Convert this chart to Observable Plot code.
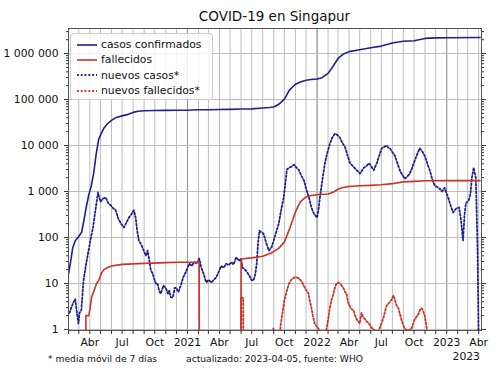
<!DOCTYPE html>
<html>
<head>
<meta charset="utf-8">
<script src="https://cdn.jsdelivr.net/npm/d3@7"></script>
<script src="https://cdn.jsdelivr.net/npm/@observablehq/plot@0.6"></script>
<style>
  html, body { margin: 0; padding: 0; background: #fff; }
  #wrap { position: relative; width: 500px; height: 375px; font-family: "DejaVu Sans", sans-serif; color: #111; }
  .abs { position: absolute; white-space: nowrap; }
  #title { top: 7px; left: 68px; width: 413px; text-align: center; font-size: 13.5px; line-height: 18px; }
  .foot { font-size: 9.2px; line-height: 14px; top: 352px; }
  #offset { right: 20px; top: 350px; font-size: 10.8px; line-height: 14px; }
  #legend { left: 70px; top: 33px; width: 141px; background: rgba(255,255,255,0.85);
            border: 1px solid #cccccc; border-radius: 3px; padding-top: 3px; box-sizing: content-box; height: 62px; }
  .row { display: flex; align-items: center; height: 15.3px; font-size: 10.8px; padding-left: 6px; }
  .row svg { width: 20px; height: 8px; margin-right: 4px; }
</style>
</head>
<body>
<div id="wrap"></div>
<script>
// ---------- data ----------
const confirmados = [
  ["2020-02-01",16],["2020-02-07",30],["2020-02-13",60],["2020-02-20",85],["2020-03-01",105],["2020-03-09",130],
  ["2020-03-15",226],["2020-03-22",455],["2020-03-29",844],["2020-04-05",1309],["2020-04-12",2532],["2020-04-19",6588],
  ["2020-04-26",13624],["2020-05-03",18205],["2020-05-10",23336],["2020-05-20",29364],["2020-06-01",35292],
  ["2020-06-15",40818],["2020-07-01",44122],["2020-07-15",46878],["2020-08-01",52512],["2020-08-15",55497],
  ["2020-09-01",56812],["2020-10-01",57765],["2020-11-01",58019],["2020-12-01",58218],["2021-01-01",58629],
  ["2021-02-01",59699],["2021-03-01",60088],["2021-04-01",60478],["2021-05-01",61121],["2021-06-01",62069],
  ["2021-07-01",62630],["2021-08-01",65315],["2021-08-20",66900],["2021-09-01",68901],["2021-09-15",78721],
  ["2021-10-01",101786],["2021-10-15",160000],["2021-11-01",215000],["2021-11-15",240000],["2021-12-01",262000],
  ["2021-12-15",272000],["2022-01-01",280000],["2022-01-15",298000],["2022-02-01",370000],["2022-02-15",530000],
  ["2022-03-01",780000],["2022-03-15",960000],["2022-04-01",1100000],["2022-05-01",1210000],["2022-06-01",1330000],
  ["2022-07-01",1450000],["2022-08-01",1700000],["2022-09-01",1850000],["2022-10-01",1900000],["2022-10-15",2000000],
  ["2022-11-01",2130000],["2022-12-01",2190000],["2023-01-01",2210000],["2023-04-05",2230000]
];
const fallecidos = [
  ["2020-02-01",0],["2020-03-20",0],["2020-03-21",2],["2020-03-29",2],["2020-04-02",3],["2020-04-06",5],
  ["2020-04-13",7],["2020-04-20",10],["2020-04-27",12],["2020-05-04",17],["2020-05-11",20],["2020-05-20",22],
  ["2020-06-01",24],["2020-07-01",26],["2020-08-15",27],["2020-10-15",28],["2020-12-01",29],["2021-02-03",29],
  ["2021-02-04",0],["2021-05-31",0],["2021-06-01",34],["2021-07-01",36],["2021-08-01",39],["2021-08-25",46],
  ["2021-09-15",58],["2021-10-01",80],["2021-10-15",150],["2021-11-01",360],["2021-11-15",600],["2021-12-01",760],
  ["2021-12-15",820],["2022-01-01",850],["2022-02-01",880],["2022-02-15",960],["2022-03-01",1120],["2022-03-15",1220],
  ["2022-04-01",1280],["2022-05-01",1330],["2022-06-01",1360],["2022-07-01",1400],["2022-08-01",1480],
  ["2022-09-01",1620],["2022-10-01",1660],["2022-11-01",1710],["2023-01-01",1720],["2023-04-05",1722]
];
const nuevosCasos = [
  ["2020-02-04",2.3],["2020-02-09",3.0],["2020-02-15",3.9],["2020-02-20",4.6],["2020-02-24",2.5],["2020-02-29",1.35],
  ["2020-03-03",2.3],["2020-03-08",2.6],["2020-03-14",11],["2020-03-21",25],["2020-03-28",50],["2020-04-03",90],
  ["2020-04-10",165],["2020-04-18",450],["2020-04-24",950],["2020-05-01",600],["2020-05-08",700],["2020-05-16",740],
  ["2020-05-23",560],["2020-05-30",500],["2020-06-06",430],["2020-06-13",390],["2020-06-20",260],["2020-06-28",200],
  ["2020-07-06",165],["2020-07-13",210],["2020-07-20",270],["2020-07-27",320],["2020-08-03",390],["2020-08-08",270],
  ["2020-08-13",130],["2020-08-17",86],["2020-08-24",70],["2020-08-31",52],["2020-09-06",40],["2020-09-11",52],
  ["2020-09-16",30],["2020-09-20",19],["2020-09-25",16.5],["2020-09-30",12],["2020-10-04",10],["2020-10-09",10],
  ["2020-10-13",7],["2020-10-18",6],["2020-10-25",9],["2020-11-01",8],["2020-11-07",6],["2020-11-11",7],
  ["2020-11-15",5],["2020-11-21",5],["2020-11-26",8],["2020-12-01",8],["2020-12-06",6.5],["2020-12-13",9],
  ["2020-12-20",13.5],["2020-12-29",19],["2021-01-06",27],["2021-01-13",24],["2021-01-20",29],["2021-01-27",27],
  ["2021-02-03",35],["2021-02-09",22],["2021-02-15",16.5],["2021-02-23",10.5],["2021-03-01",12],["2021-03-09",10.5],
  ["2021-03-16",12],["2021-03-23",13.5],["2021-03-30",18],["2021-04-06",24],["2021-04-13",22],["2021-04-20",27],
  ["2021-04-27",25],["2021-05-04",29],["2021-05-11",26],["2021-05-18",37],["2021-05-27",31],["2021-06-01",35],
  ["2021-06-05",22],["2021-06-10",21],["2021-06-17",18],["2021-06-24",15],["2021-06-30",12],["2021-07-06",11.6],
  ["2021-07-11",16],["2021-07-15",27],["2021-07-19",80],["2021-07-23",141],["2021-07-28",130],["2021-08-03",122],
  ["2021-08-10",80],["2021-08-18",52],["2021-08-26",61],["2021-09-05",110],["2021-09-15",200],["2021-09-22",400],
  ["2021-09-29",740],["2021-10-04",1600],["2021-10-08",3000],["2021-10-15",3300],["2021-10-22",3500],
  ["2021-10-28",3850],["2021-11-04",3300],["2021-11-11",2900],["2021-11-18",2200],["2021-11-25",1740],
  ["2021-12-02",1100],["2021-12-09",740],["2021-12-16",450],["2021-12-23",330],["2022-01-01",270],["2022-01-05",400],
  ["2022-01-09",740],["2022-01-16",1800],["2022-01-23",4100],["2022-01-30",7000],["2022-02-06",11000],
  ["2022-02-13",15000],["2022-02-20",18000],["2022-02-27",17000],["2022-03-06",14800],["2022-03-13",11500],
  ["2022-03-21",9100],["2022-03-28",6000],["2022-04-04",4100],["2022-04-11",3600],["2022-04-18",3160],
  ["2022-04-25",2800],["2022-05-02",2450],["2022-05-08",2900],["2022-05-13",3300],["2022-05-20",3600],
  ["2022-05-27",4100],["2022-06-03",3500],["2022-06-10",2900],["2022-06-14",3500],["2022-06-18",4100],
  ["2022-06-25",6000],["2022-07-02",8700],["2022-07-09",9300],["2022-07-16",10000],["2022-07-20",9000],
  ["2022-07-25",8700],["2022-08-01",7200],["2022-08-08",6000],["2022-08-15",4200],["2022-08-22",2900],
  ["2022-08-29",2300],["2022-09-05",1900],["2022-09-12",2100],["2022-09-19",2450],["2022-09-26",3300],
  ["2022-10-03",4700],["2022-10-10",6500],["2022-10-17",8700],["2022-10-24",7500],["2022-10-31",6000],
  ["2022-11-07",4200],["2022-11-14",2900],["2022-11-21",1900],["2022-11-28",1350],["2022-12-05",1250],
  ["2022-12-12",1150],["2022-12-19",1000],["2022-12-26",1200],["2023-01-05",740],["2023-01-12",500],
  ["2023-01-19",350],["2023-01-28",430],["2023-02-05",450],["2023-02-10",250],["2023-02-16",86],["2023-02-20",300],
  ["2023-02-24",550],["2023-03-04",640],["2023-03-09",900],["2023-03-13",2000],["2023-03-18",3300],
  ["2023-03-24",2000],["2023-03-29",52],["2023-04-05",0]
];
const nuevosFallecidos = [
  ["2020-02-01",0],["2021-05-31",0],["2021-06-01",4.9],["2021-06-07",4.9],["2021-06-08",0],["2021-08-29",0],
  ["2021-08-31",1.1],["2021-09-03",0],["2021-09-14",0],["2021-09-20",1.2],["2021-10-01",4.3],["2021-10-08",7],
  ["2021-10-15",10.5],["2021-10-22",12.5],["2021-10-29",13.5],["2021-11-05",13.5],["2021-11-12",12.8],
  ["2021-11-20",10.5],["2021-11-27",8.2],["2021-12-02",7],["2021-12-08",6],["2021-12-12",4],["2021-12-16",3],
  ["2021-12-20",2],["2021-12-25",1.35],["2022-01-05",1.05],["2022-01-12",0.7],["2022-01-19",0.6],["2022-01-28",1.05],
  ["2022-02-02",1.8],["2022-02-06",3],["2022-02-11",4.5],["2022-02-16",6],["2022-02-21",8.5],["2022-02-25",10],
  ["2022-03-02",10.5],["2022-03-09",9.5],["2022-03-16",8],["2022-03-21",6.5],["2022-03-25",6],["2022-03-29",4],
  ["2022-04-02",3.3],["2022-04-08",2.8],["2022-04-14",2.6],["2022-04-18",2],["2022-04-22",1.7],["2022-05-01",1.35],
  ["2022-05-06",2.3],["2022-05-10",1.9],["2022-05-15",1.7],["2022-05-20",1.5],["2022-05-26",1.4],["2022-06-03",1.1],
  ["2022-06-10",1],["2022-06-17",0.8],["2022-06-26",1.05],["2022-07-02",1.4],["2022-07-07",1.8],["2022-07-12",2.6],
  ["2022-07-16",3.3],["2022-07-24",3.9],["2022-07-30",4.5],["2022-08-04",5.5],["2022-08-09",4.2],["2022-08-13",3.3],
  ["2022-08-18",2.9],["2022-08-22",2.2],["2022-08-27",1.6],["2022-09-04",1.05],["2022-09-10",0.98],
  ["2022-09-16",0.95],["2022-09-24",1.05],["2022-10-02",1.6],["2022-10-08",1.9],["2022-10-14",2.2],
  ["2022-10-18",2.7],["2022-10-22",2.9],["2022-10-27",2.5],["2022-10-31",2],["2022-11-05",1.2],["2022-11-11",0.6],
  ["2022-11-15",0],["2023-04-05",0]
];
const serieNombres = ["casos confirmados", "fallecidos", "nuevos casos*", "nuevos fallecidos*"];
const yDecadas = [1, 10, 100, 1000, 10000, 100000, 1000000];
const mesEtiquetas = ["", "", "", "Abr", "", "", "Jul", "", "", "Oct", "", ""];
const titulo = "COVID-19 en Singapur";
const notaMedia = "* media móvil de 7 días";
const notaFuente = "actualizado: 2023-04-05, fuente: WHO";
const anioFinal = "2023";

// ---------- build ----------
const AZUL = "#1f1f8f", ROJO = "#cc3326";
const FLOOR = 1e-3; // zero cannot be shown on a log scale: drawn below the frame and clipped
const rows = arr => arr.map(([d, v]) => ({date: new Date(d), v}));
const yv = d => (d.v > 0 ? d.v : FLOOR);

const xDomain = [new Date("2020-02-01"), new Date("2023-04-09")];
const meses = d3.utcMonth.range(new Date("2020-02-01"), new Date("2023-04-09"));
const anios = meses.filter(d => d.getUTCMonth() === 0);
const yMenores = [];
for (const dec of yDecadas) for (let k = 2; k <= 9; k++) if (dec * k < 3.5e6) yMenores.push(dec * k);
const fmtY = v => d3.format(",")(v).replace(/,/g, " ");
const fmtX = d => d.getUTCMonth() === 0 ? String(d.getUTCFullYear()) : mesEtiquetas[d.getUTCMonth()];

const dotted = "1.8,2";
const chart = Plot.plot({
  width: 500, height: 375,
  marginTop: 28, marginRight: 19, marginBottom: 45, marginLeft: 68,
  style: {fontFamily: "DejaVu Sans, sans-serif", fontSize: "10.8px", color: "#111", background: "transparent"},
  x: {type: "utc", domain: xDomain, label: null},
  y: {type: "log", domain: [0.95, 3.5e6], label: null},
  marks: [
    Plot.gridX({ticks: meses, stroke: "#bdbdbd", strokeOpacity: 1, strokeWidth: 1}),
    Plot.gridX({ticks: anios, stroke: "#949494", strokeOpacity: 1, strokeWidth: 1}),
    Plot.gridY({ticks: yDecadas, stroke: "#bdbdbd", strokeOpacity: 1, strokeWidth: 1}),
    Plot.line(rows(nuevosFallecidos), {x: "date", y: yv, stroke: ROJO, strokeWidth: 1.8, strokeDasharray: dotted, clip: true}),
    Plot.line(rows(nuevosCasos), {x: "date", y: yv, stroke: AZUL, strokeWidth: 1.8, strokeDasharray: dotted, clip: true}),
    Plot.line(rows(fallecidos), {x: "date", y: yv, stroke: ROJO, strokeWidth: 1.6, clip: true}),
    Plot.line(rows(confirmados), {x: "date", y: yv, stroke: AZUL, strokeWidth: 1.6, clip: true}),
    Plot.frame({stroke: "#555", strokeWidth: 1}),
    Plot.axisY({anchor: "left", ticks: yDecadas, tickFormat: fmtY, tickSize: 4, tickPadding: 6, stroke: "#333", label: null}),
    Plot.axisY({anchor: "left", ticks: yMenores, tickSize: 2, fill: "none", stroke: "#333", label: null}),
    Plot.axisY({anchor: "right", ticks: yDecadas, tickSize: 4, fill: "none", stroke: "#333", label: null}),
    Plot.axisY({anchor: "right", ticks: yMenores, tickSize: 2, fill: "none", stroke: "#333", label: null}),
    Plot.axisX({anchor: "bottom", ticks: meses, tickFormat: fmtX, tickSize: 4, tickPadding: 4, stroke: "#333", label: null})
  ]
});

const wrap = document.getElementById("wrap");
wrap.appendChild(chart);

function addText(id, cls, txt, style) {
  const el = document.createElement("div");
  if (id) el.id = id;
  el.className = "abs " + (cls || "");
  el.textContent = txt;
  if (style) Object.assign(el.style, style);
  wrap.appendChild(el);
  return el;
}
addText("title", "", titulo);
addText(null, "foot", notaMedia, {left: "48px"});
addText(null, "foot", notaFuente, {left: "186px"});
addText("offset", "", anioFinal);

// legend
const legend = document.createElement("div");
legend.id = "legend";
legend.className = "abs";
const estilos = [
  {color: AZUL, dash: null, w: 1.6}, {color: ROJO, dash: null, w: 1.6},
  {color: AZUL, dash: dotted, w: 1.8}, {color: ROJO, dash: dotted, w: 1.8}
];
serieNombres.forEach((name, i) => {
  const row = document.createElement("div");
  row.className = "row";
  const s = estilos[i];
  row.innerHTML = `<svg viewBox="0 0 20 8"><line x1="0" y1="4" x2="20" y2="4" stroke="${s.color}" stroke-width="${s.w}"${s.dash ? ` stroke-dasharray="${s.dash}"` : ""}/></svg><span></span>`;
  row.querySelector("span").textContent = name;
  legend.appendChild(row);
});
wrap.appendChild(legend);
</script>
</body>
</html>
